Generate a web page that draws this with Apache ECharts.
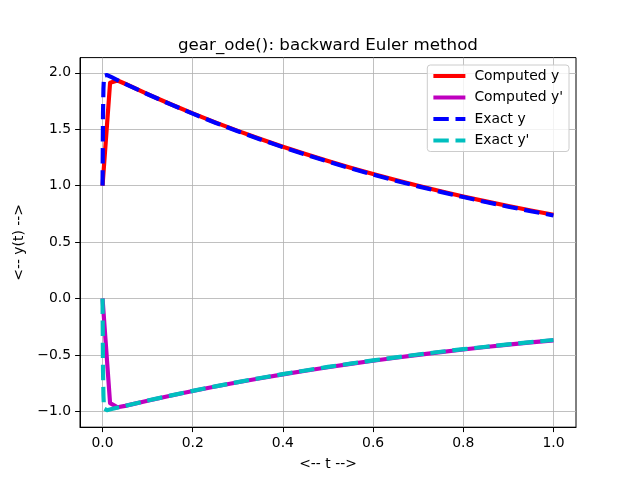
<!DOCTYPE html>
<html>
<head>
<meta charset="utf-8">
<script src="https://cdn.jsdelivr.net/npm/echarts@6/dist/echarts.min.js"></script>
<style>html,body{margin:0;padding:0;background:#fff}#c{width:640px;height:480px}</style>
</head>
<body>
<div id="c"></div>
<script>
// Computed (backward Euler) solution
var tComputed = [0, 0.0167, 0.0333, 0.05, 0.1, 0.15, 0.2, 0.25, 0.3, 0.35, 0.4, 0.45, 0.5, 0.55, 0.6, 0.65, 0.7, 0.75, 0.8, 0.85, 0.9, 0.95, 1.0];
var yComputed = [1.0, 1.9106, 1.9317, 1.9030, 1.8111, 1.7234, 1.6400, 1.5606, 1.4851, 1.4132, 1.3448, 1.2797, 1.2178, 1.1588, 1.1027, 1.0494, 0.9986, 0.9502, 0.9042, 0.8605, 0.8188, 0.7792, 0.7415];
var ypComputed = [0.0, -0.9270, -0.9643, -0.9514, -0.9055, -0.8617, -0.8200, -0.7803, -0.7425, -0.7066, -0.6724, -0.6399, -0.6089, -0.5794, -0.5514, -0.5247, -0.4993, -0.4751, -0.4521, -0.4302, -0.4094, -0.3896, -0.3707];
// Exact solution
var tExact = [0, 0.001, 0.002, 0.003, 0.004, 0.005, 0.006, 0.008, 0.01, 0.02, 0.05, 0.1, 0.15, 0.2, 0.25, 0.3, 0.35, 0.4, 0.45, 0.5, 0.55, 0.6, 0.65, 0.7, 0.75, 0.8, 0.85, 0.9, 0.95, 1.0];
var yExact = [1.0, 1.6303, 1.8607, 1.9442, 1.9737, 1.9833, 1.9855, 1.9838, 1.9801, 1.9604, 1.9025, 1.8097, 1.7214, 1.6375, 1.5576, 1.4816, 1.4094, 1.3406, 1.2753, 1.2131, 1.1539, 1.0976, 1.0441, 0.9932, 0.9447, 0.8987, 0.8548, 0.8131, 0.7735, 0.7358];
var ypExact = [0.0, -0.6311, -0.8627, -0.9472, -0.9777, -0.9883, -0.9915, -0.9917, -0.9900, -0.9802, -0.9512, -0.9048, -0.8607, -0.8187, -0.7788, -0.7408, -0.7047, -0.6703, -0.6376, -0.6065, -0.5769, -0.5488, -0.5220, -0.4966, -0.4724, -0.4493, -0.4274, -0.4066, -0.3867, -0.3679];
// Ticks
var xTicks = [0, 0.2, 0.4, 0.6, 0.8, 1.0];
var yTicks = [-1.0, -0.5, 0.0, 0.5, 1.0, 1.5, 2.0];
var seriesNames = ["Computed y", "Computed y'", "Exact y", "Exact y'"];

function pairs(t, v) { return t.map(function (x, i) { return [x, v[i]]; }); }
function fmt(v) { var s = Number(v).toFixed(1); return s.charAt(0) === '-' ? '\u2212' + s.slice(1) : s; }

var FONT = 'DejaVu Sans';
var LW = 4.17;
var DASH = [15.4, 6.7];

var chart = echarts.init(document.getElementById('c'), null, { renderer: 'canvas' });
chart.setOption({
  animation: false,
  backgroundColor: '#ffffff',
  title: {
    text: 'gear_ode(): backward Euler method',
    left: 173, top: 32,
    textStyle: { fontFamily: FONT, fontSize: 16.7, fontWeight: 'normal', color: '#000' }
  },
  legend: {
    orient: 'vertical',
    right: 71, top: 65,
    padding: [4, 6, 4, 4],
    itemWidth: 32, itemHeight: 14, itemGap: 7.5,
    backgroundColor: 'rgba(255,255,255,0.8)',
    borderColor: '#cccccc', borderWidth: 1, borderRadius: 3,
    itemStyle: { opacity: 0 },
    lineStyle: { width: LW },
    textStyle: { fontFamily: FONT, fontSize: 13.9, color: '#000', padding: [0, 0, 0, 4] },
    data: seriesNames
  },
  grid: {
    left: 80, right: 64, top: 57.6, bottom: 52.8,
    show: true, borderColor: '#000', borderWidth: 1, backgroundColor: 'transparent'
  },
  xAxis: {
    type: 'value', min: -0.05, max: 1.05,
    name: '<-- t -->', nameLocation: 'middle', nameGap: 30,
    nameTextStyle: { fontFamily: FONT, fontSize: 13.9, color: '#000' },
    axisLine: { show: true, onZero: false, lineStyle: { color: '#000', width: 1 } },
    axisTick: { show: true, inside: false, length: 4.9, customValues: xTicks, lineStyle: { color: '#000', width: 1 } },
    axisLabel: { customValues: xTicks, margin: 9.5, fontFamily: FONT, fontSize: 13.9, color: '#000', formatter: fmt },
    splitLine: { show: true, lineStyle: { color: '#b0b0b0', width: 0.8 } }
  },
  yAxis: {
    type: 'value', min: -1.1406, max: 2.1344,
    name: '<-- y(t) -->', nameLocation: 'middle', nameGap: 49, nameRotate: 90,
    nameTextStyle: { fontFamily: FONT, fontSize: 13.9, color: '#000' },
    axisLine: { show: true, onZero: false, lineStyle: { color: '#000', width: 1 } },
    axisTick: { show: true, inside: false, length: 4.9, customValues: yTicks, lineStyle: { color: '#000', width: 1 } },
    axisLabel: { customValues: yTicks, margin: 9, fontFamily: FONT, fontSize: 13.9, color: '#000', formatter: fmt },
    splitLine: { show: true, lineStyle: { color: '#b0b0b0', width: 0.8 } }
  },
  series: [
    { name: seriesNames[0], type: 'line', data: pairs(tComputed, yComputed), symbol: 'none', color: '#ff0000',
      lineStyle: { color: '#ff0000', width: LW, type: 'solid', join: 'round' } },
    { name: seriesNames[1], type: 'line', data: pairs(tComputed, ypComputed), symbol: 'none', color: '#bf00bf',
      lineStyle: { color: '#bf00bf', width: LW, type: 'solid', join: 'round' } },
    { name: seriesNames[2], type: 'line', data: pairs(tExact, yExact), symbol: 'none', color: '#0000ff',
      lineStyle: { color: '#0000ff', width: LW, type: DASH, cap: 'butt', join: 'round' } },
    { name: seriesNames[3], type: 'line', data: pairs(tExact, ypExact), symbol: 'none', color: '#00bfbf',
      lineStyle: { color: '#00bfbf', width: LW, type: DASH, cap: 'butt', join: 'round' } }
  ]
});
</script>
</body>
</html>
